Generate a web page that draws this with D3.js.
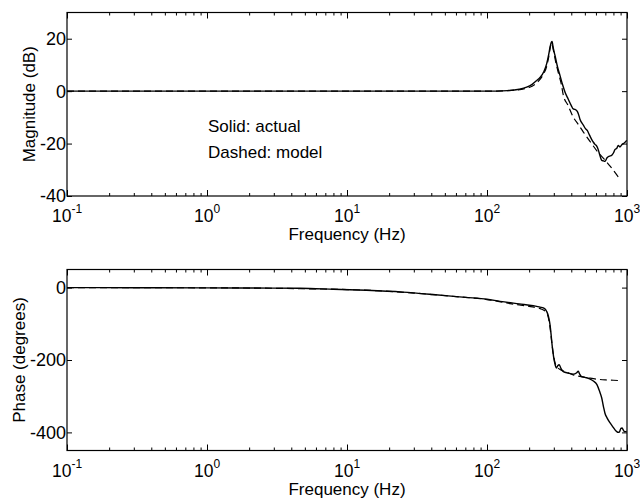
<!DOCTYPE html>
<html>
<head>
<meta charset="utf-8">
<script src="https://cdn.jsdelivr.net/npm/d3@7/dist/d3.min.js"></script>
<style>
  html, body { margin: 0; padding: 0; background: #fff; }
  svg text { font-family: "Liberation Sans", Arial, Helvetica, sans-serif; fill: #000; }
</style>
</head>
<body>
<svg id="chart" width="640" height="499"></svg>
<script>
// Frequency response: [frequency (Hz), value]
const magActual = [
  [0.1,0],[0.5,0],[1,0],[3,0],[10,0],[30,0],[60,0],[100,0],[140,0.2],[170,0.7],
  [192,1.5],[210,2.6],[226,4],[240,5.3],[255,7.5],[267,10.5],[276,14],[283,17.2],
  [288,18.6],[292,19],[295,17.6],[300,15.5],[306,13.6],[318,9.5],[332,6],[345,2.8],
  [361,-0.4],[380,-3],[400,-5.5],[413,-6.8],[425,-7],[440,-7.6],[449,-8.6],[462,-10.8],
  [488,-13],[505,-14.3],[520,-15],[540,-16.8],[560,-18.5],[574,-19.4],[590,-20.3],
  [605,-20.8],[624,-22.4],[640,-24.5],[660,-26.4],[680,-26.6],[696,-26.8],[720,-25.4],
  [750,-24.8],[777,-24.5],[800,-23.6],[820,-22.3],[845,-21.8],[866,-20.7],[890,-21.3],
  [915,-20.5],[942,-20],[965,-19.6],[995,-18.8]
];
const magModel = [
  [0.1,0],[1,0],[10,0],[100,0],[150,0.3],[200,1.4],[230,3.5],[250,6],[267,9.5],
  [278,14],[285,17.5],[289,18.3],[293,17.5],[300,14.8],[310,11],[325,6.5],[340,2.5],
  [351,-1.6],[380,-5.5],[413,-9.9],[450,-12.8],[488,-15.6],[550,-19.5],[624,-23.5],
  [690,-26],[757,-28.6],[820,-31],[891,-33.6]
];
const phaseActual = [
  [0.1,0],[0.3,-0.3],[1,-0.7],[2,-1.2],[4.6,-1.8],[8,-4.5],[13.8,-7.5],[25,-12.5],
  [41,-19],[70,-27],[100,-32],[124,-38],[170,-45],[214,-50],[240,-54],[258,-58],
  [267,-66],[275,-80],[282,-103],[287,-130],[290,-149],[295,-175],[303,-204],
  [308,-216],[313,-222],[320,-216],[328,-213],[338,-224],[351,-232],[380,-236],
  [413,-239],[435,-236],[449,-231],[458,-238],[471,-245],[500,-248],[541,-252],
  [575,-258],[610,-268],[635,-285],[660,-305],[680,-330],[696,-347],[720,-360],
  [757,-374],[790,-384],[821,-393],[845,-398],[866,-400],[885,-398],[905,-389],
  [921,-388],[940,-393],[960,-398],[995,-397]
];
const phaseModel = [
  [0.1,0],[1,-0.6],[10,-5.5],[30,-15],[60,-25],[100,-33],[150,-45],[200,-52],
  [240,-58],[265,-68],[275,-85],[282,-110],[290,-150],[298,-185],[305,-205],
  [315,-218],[335,-227],[360,-232],[413,-241],[470,-246],[540,-250],[610,-253],
  [700,-255],[800,-256],[891,-257]
];
const decadeExponents = [-1, 0, 1, 2, 3];
const magTicks = [-40, -20, 0, 20];
const phaseTicks = [-400, -200, 0];

const svg = d3.select("#chart");
const FONT = 17;

const x = d3.scaleLog().domain([0.1, 1000]).range([67, 627]);
const decades = decadeExponents.map(e => Math.pow(10, e));
const minors = [];
decadeExponents.slice(0, -1).forEach(e => {
  for (let k = 2; k <= 9; k++) minors.push(k * Math.pow(10, e));
});

function panel(cfg) {
  const y = d3.scaleLinear().domain(cfg.domain).range([cfg.bottom, cfg.top]);
  const g = svg.append("g");
  const [x0, x1] = x.range();

  // inward ticks on all four sides
  const tickStyle = sel => {
    sel.select(".domain").remove();
    sel.selectAll("line").attr("stroke", "#000").attr("stroke-width", 1);
    sel.selectAll("text").remove();
  };
  g.append("g").attr("transform", `translate(0,${cfg.bottom})`)
    .call(d3.axisBottom(x).tickValues(decades).tickSize(-6)).call(tickStyle);
  g.append("g").attr("transform", `translate(0,${cfg.bottom})`)
    .call(d3.axisBottom(x).tickValues(minors).tickSize(-3)).call(tickStyle);
  g.append("g").attr("transform", `translate(0,${cfg.top})`)
    .call(d3.axisTop(x).tickValues(decades).tickSize(-6)).call(tickStyle);
  g.append("g").attr("transform", `translate(0,${cfg.top})`)
    .call(d3.axisTop(x).tickValues(minors).tickSize(-3)).call(tickStyle);
  g.append("g").attr("transform", `translate(${x0},0)`)
    .call(d3.axisLeft(y).tickValues(cfg.ticks).tickSize(-5)).call(tickStyle);
  g.append("g").attr("transform", `translate(${x1},0)`)
    .call(d3.axisRight(y).tickValues(cfg.ticks).tickSize(-5)).call(tickStyle);

  // frame
  g.append("rect")
    .attr("x", x0).attr("y", cfg.top)
    .attr("width", x1 - x0).attr("height", cfg.bottom - cfg.top)
    .attr("fill", "none").attr("stroke", "#000").attr("stroke-width", 1.2);

  // y tick labels
  g.selectAll(".ylab").data(cfg.ticks).join("text")
    .attr("x", x0 - 1).attr("y", d => y(d)).attr("dy", "0.36em")
    .attr("text-anchor", "end").attr("font-size", 18)
    .text(d => d);

  // x tick labels: 10 with superscript exponent
  const xl = g.selectAll(".xlab").data(decadeExponents).join("text")
    .attr("x", d => x(Math.pow(10, d))).attr("y", cfg.bottom + 26)
    .attr("text-anchor", "middle").attr("font-size", 17.5);
  xl.append("tspan").text("10");
  xl.append("tspan").attr("font-size", 12).attr("dy", -9).text(d => d);

  // axis titles
  g.append("text")
    .attr("x", (x0 + x1) / 2).attr("y", cfg.bottom + 44)
    .attr("text-anchor", "middle").attr("font-size", FONT)
    .text("Frequency (Hz)");
  g.append("text")
    .attr("transform", `translate(${cfg.ylabelX},${(cfg.top + cfg.bottom) / 2}) rotate(-90)`)
    .attr("text-anchor", "middle").attr("font-size", FONT)
    .text(cfg.ylabel);

  const line = d3.line().x(d => x(d[0])).y(d => y(d[1])).curve(d3.curveMonotoneX);
  g.append("path").datum(cfg.model).attr("d", line)
    .attr("fill", "none").attr("stroke", "#000").attr("stroke-width", 1.2)
    .attr("stroke-dasharray", "7,4");
  g.append("path").datum(cfg.actual).attr("d", line)
    .attr("fill", "none").attr("stroke", "#000").attr("stroke-width", 1.4);
  return g;
}

const magPanel = panel({
  domain: [-40, 30], top: 12.5, bottom: 196, ticks: magTicks,
  ylabel: "Magnitude (dB)", ylabelX: 35,
  actual: magActual, model: magModel
});
magPanel.append("text").attr("x", 208).attr("y", 132).attr("font-size", FONT).text("Solid: actual");
magPanel.append("text").attr("x", 208).attr("y", 158).attr("font-size", FONT).text("Dashed: model");

const phasePanel = panel({
  domain: [-450, 50], top: 269.5, bottom: 450.5, ticks: phaseTicks,
  ylabel: "Phase (degrees)", ylabelX: 25,
  actual: phaseActual, model: phaseModel
});
</script>
</body>
</html>
